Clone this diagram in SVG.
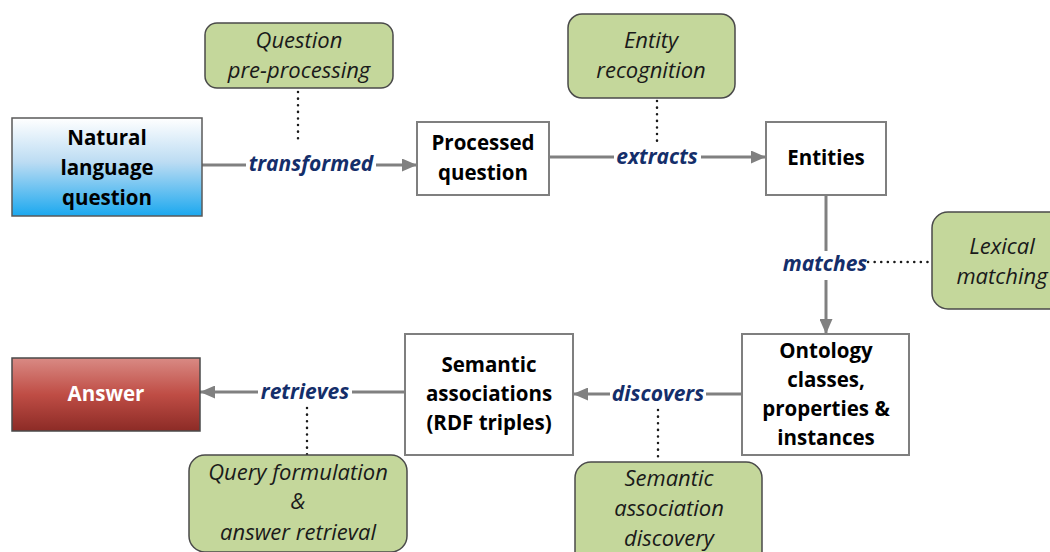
<svg xmlns="http://www.w3.org/2000/svg" width="1050" height="552" viewBox="0 0 1050 552">
  <defs>
    <linearGradient id="gBlue" x1="0" y1="0" x2="0" y2="1">
      <stop offset="0" stop-color="#ffffff"/>
      <stop offset="0.45" stop-color="#bcdcf3"/>
      <stop offset="1" stop-color="#1ba8ef"/>
    </linearGradient>
    <linearGradient id="gRed" x1="0" y1="0" x2="0" y2="1">
      <stop offset="0" stop-color="#d98a84"/>
      <stop offset="0.5" stop-color="#bf4d45"/>
      <stop offset="1" stop-color="#8c2b26"/>
    </linearGradient>
    <marker id="arrow" viewBox="0 0 15 13" refX="15" refY="6.5" markerWidth="15" markerHeight="13" markerUnits="userSpaceOnUse" orient="auto">
      <path d="M0,0 L15,6.5 L0,13 Z" fill="#808080"/>
    </marker>
  </defs>
  <style>
    .box { fill: #ffffff; stroke: #7f7f7f; stroke-width: 2; }
    .task { fill: #c4d79b; stroke: #4a4a4a; stroke-width: 1.5; }
    .ntext { font-family: "Open Sans", Lato, sans-serif; font-weight: bold; font-size: 20.5px; fill: #000; text-anchor: middle; }
    .ttext { font-family: "Open Sans", Lato, sans-serif; font-style: italic; font-size: 22px; fill: #1a1a1a; text-anchor: middle; }
    .lbl { font-family: "Open Sans", Lato, sans-serif; font-style: italic; font-weight: bold; font-size: 21px; fill: #142e6a; text-anchor: middle; }
    .edge { stroke: #808080; stroke-width: 3; fill: none; }
    .dots { stroke: #1a1a1a; stroke-width: 2.5; stroke-dasharray: 0.1 6.5; stroke-linecap: round; fill: none; }
  </style>

  <!-- connectors -->
  <g id="connectors">
    <line class="edge" x1="202" y1="165" x2="246" y2="165"/>
    <line class="edge" x1="376" y1="165" x2="417" y2="165" marker-end="url(#arrow)"/>
    <line class="edge" x1="549" y1="157" x2="614" y2="157"/>
    <line class="edge" x1="701" y1="157" x2="766" y2="157" marker-end="url(#arrow)"/>
    <line class="edge" x1="826" y1="195" x2="826" y2="251"/>
    <line class="edge" x1="826" y1="280" x2="826" y2="334" marker-end="url(#arrow)"/>
    <line class="edge" x1="742" y1="394" x2="706" y2="394"/>
    <line class="edge" x1="610" y1="394" x2="573" y2="394" marker-end="url(#arrow)"/>
    <line class="edge" x1="405" y1="392" x2="352" y2="392"/>
    <line class="edge" x1="258" y1="392" x2="200" y2="392" marker-end="url(#arrow)"/>

    <line class="dots" x1="298" y1="92" x2="298" y2="142"/>
    <line class="dots" x1="657" y1="101" x2="657" y2="142"/>
    <line class="dots" x1="868" y1="262" x2="930" y2="262"/>
    <line class="dots" x1="658" y1="410" x2="658" y2="462"/>
    <line class="dots" x1="307" y1="408" x2="307" y2="455"/>

    <text class="lbl" x="311" y="171">transformed</text>
    <text class="lbl" x="657" y="164">extracts</text>
    <text class="lbl" x="825" y="271">matches</text>
    <text class="lbl" x="658" y="401">discovers</text>
    <text class="lbl" x="305" y="399">retrieves</text>
  </g>

  <g id="nl-question">
    <rect x="12" y="118" width="190" height="98" fill="url(#gBlue)" stroke="#5a5a5a" stroke-width="1.5"/>
    <text class="ntext" x="107" y="145">Natural</text>
    <text class="ntext" x="107" y="175">language</text>
    <text class="ntext" x="107" y="205">question</text>
  </g>

  <g id="processed-question">
    <rect class="box" x="417" y="122" width="132" height="73"/>
    <text class="ntext" x="483" y="150">Processed</text>
    <text class="ntext" x="483" y="180">question</text>
  </g>

  <g id="entities">
    <rect class="box" x="766" y="122" width="120" height="73"/>
    <text class="ntext" x="826" y="165">Entities</text>
  </g>

  <g id="ontology">
    <rect class="box" x="742" y="334" width="167" height="121"/>
    <text class="ntext" x="826" y="358">Ontology</text>
    <text class="ntext" x="826" y="387">classes,</text>
    <text class="ntext" x="826" y="416">properties &amp;</text>
    <text class="ntext" x="826" y="445">instances</text>
  </g>

  <g id="semantic-associations">
    <rect class="box" x="405" y="334" width="168" height="121"/>
    <text class="ntext" x="489" y="372">Semantic</text>
    <text class="ntext" x="489" y="401">associations</text>
    <text class="ntext" x="489" y="430">(RDF triples)</text>
  </g>

  <g id="answer">
    <rect x="12" y="358" width="188" height="73" fill="url(#gRed)" stroke="#4a4a4a" stroke-width="1.5"/>
    <text class="ntext" x="106" y="401" style="fill:#ffffff">Answer</text>
  </g>

  <g id="question-preprocessing">
    <rect class="task" x="205" y="23" width="188" height="65" rx="12"/>
    <text class="ttext" x="299" y="48">Question</text>
    <text class="ttext" x="299" y="78">pre-processing</text>
  </g>

  <g id="entity-recognition">
    <rect class="task" x="568" y="14" width="167" height="84" rx="14"/>
    <text class="ttext" x="651" y="48">Entity</text>
    <text class="ttext" x="651" y="78">recognition</text>
  </g>

  <g id="lexical-matching">
    <rect class="task" x="932" y="212" width="140" height="97" rx="16"/>
    <text class="ttext" x="1002" y="254">Lexical</text>
    <text class="ttext" x="1002" y="284">matching</text>
  </g>

  <g id="query-formulation">
    <rect class="task" x="189" y="455" width="218" height="97" rx="16"/>
    <text class="ttext" x="298" y="480">Query formulation</text>
    <text class="ttext" x="298" y="509">&amp;</text>
    <text class="ttext" x="298" y="540">answer retrieval</text>
  </g>

  <g id="semantic-association-discovery">
    <rect class="task" x="575" y="462" width="187" height="110" rx="16"/>
    <text class="ttext" x="669" y="486">Semantic</text>
    <text class="ttext" x="669" y="516">association</text>
    <text class="ttext" x="669" y="546">discovery</text>
  </g>
</svg>
